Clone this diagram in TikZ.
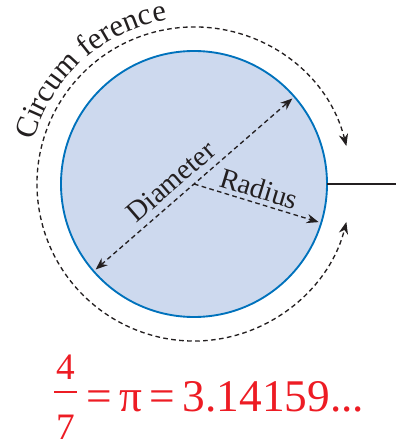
\documentclass[tikz,border=0pt]{standalone}
\usepackage{fontspec}
\setmainfont{Liberation Serif}
\newfontfamily\diagfont{Liberation Serif}
\usepackage{xcolor}
\usepackage{tikz}
\usetikzlibrary{arrows.meta, decorations.text, calc}

\definecolor{discfill}{RGB}{205,217,238}
\definecolor{discline}{RGB}{0,114,188}
\definecolor{inkgray}{RGB}{35,31,32}
\definecolor{formred}{RGB}{237,28,36}

\begin{document}
\begin{tikzpicture}[
    x=0.75pt, y=0.75pt,
    disc/.style={circle, draw=discline, line width=1.4pt, fill=discfill, minimum size=199.5pt, inner sep=0pt, outer sep=0pt},
    dimline/.style={dash pattern=on 3.5pt off 2.5pt, line width=1pt, draw=inkgray},
    tipend/.style={-{Stealth[length=9pt, width=7pt]}},
    tipboth/.style={{Stealth[length=9pt, width=7pt]}-{Stealth[length=9pt, width=7pt]}},
    lbl/.style={font=\diagfont\fontsize{21.5}{24}\selectfont, text=inkgray, inner sep=1pt},
    formula/.style={text=formred, inner sep=0pt}
]
\useasboundingbox (0,0) rectangle (402,446);

% Circle
\coordinate (o) at (194,262);
\node[disc] (disc) at (o) {};

% Diameter and radius
\draw[dimline, tipboth, shorten <=2pt, shorten >=2pt] (disc.221.5) -- node[lbl, sloped, above=4pt, pos=0.44] {Diameter} (disc.41.5);
\draw[dimline, tipend, shorten >=2pt] (o) -- node[lbl, sloped, above=2pt, pos=0.48] {Radius} (disc.-17.7);

% Start mark
\coordinate (tickend) at (396,262);
\draw[inkgray, line width=0.9pt] (disc.east) -- (tickend);

% Circumference
\draw[dimline, tipboth] ($(o)+(14:157)$) arc[start angle=14, end angle=346, radius=157];
\path[decorate, decoration={text along path, text align=center,
    text={|\diagfont\fontsize{23}{26}\selectfont\color{inkgray}|Circum ference}}]
    ($(o)+(166:166)$) arc[start angle=166, end angle=98, radius=166];

% Formula
\node[formula, font=\diagfont\fontsize{28}{30}\selectfont, anchor=base] (num) at (65.5,66) {4};
\node[formula, font=\diagfont\fontsize{28}{30}\selectfont, anchor=base] (den) at (65.5,7) {7};
\coordinate (barl) at (54,54);
\coordinate (barr) at (77,54);
\draw[formred, line width=1.1pt] (barl) -- (barr);
\node[formula, font=\diagfont\fontsize{34}{36}\selectfont, anchor=base west] (value) at (86,34) {=\,π\,=\,3.14159...};

\end{tikzpicture}
\end{document}
